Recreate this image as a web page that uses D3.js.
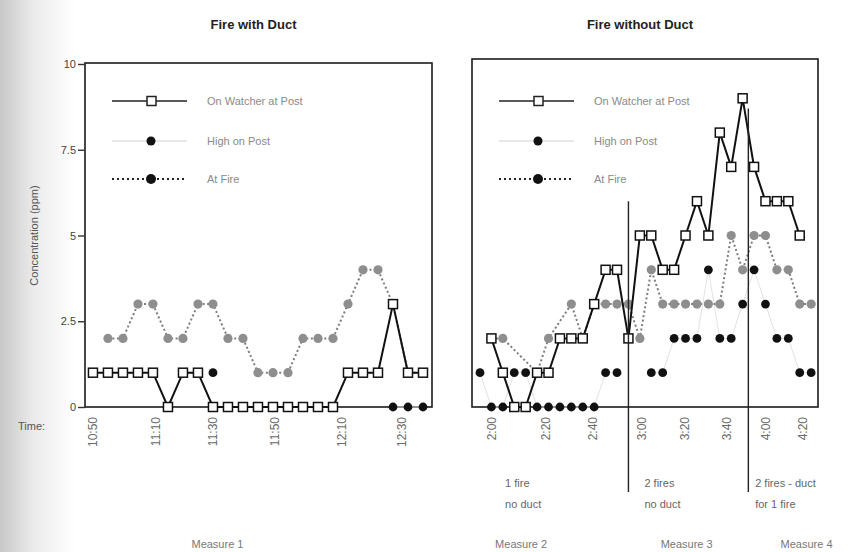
<!DOCTYPE html>
<html>
<head>
<meta charset="utf-8">
<script src="https://cdn.jsdelivr.net/npm/d3@7"></script>
<style>
  body { margin: 0; background: #fff; }
  text { font-family: "Liberation Sans", Arial, sans-serif; }
</style>
</head>
<body>
<div id="chart"></div>
<script>
// ---- data (ppm), one value per reading, null = no reading ----
const seriesNames = ["On Watcher at Post", "High on Post", "At Fire"];

// Fire with Duct, readings every 5 min from 10:50
const leftOnPost   = [1,1,1,1,1,0,1,1,0,0,0,0,0,0,0,0,0,1,1,1,3,1,1];
const leftHighPost = [null,null,null,null,null,null,null,null,1,null,null,null,null,null,null,null,null,null,null,null,0,0,0];
const leftAtFire   = [null,2,2,3,3,2,2,3,3,2,2,1,1,1,2,2,2,3,4,4,3,1,1];
const leftTickPos    = [0, 4.2, 8, 12.1, 16.6, 20.6];
const leftTickLabels = ["10:50", "11:10", "11:30", "11:50", "12:10", "12:30"];

// Fire without Duct
const rightOnPost   = [null,2,1,0,0,1,1,2,2,2,3,4,4,2,5,5,4,4,5,6,5,8,7,9,7,6,6,6,5,null];
const rightHighPost = [1,0,0,1,1,0,0,0,0,0,0,1,1,null,null,1,1,2,2,2,4,2,2,3,4,3,2,2,1,1];
const rightAtFire   = [null,2,2,null,null,1,2,null,3,2,3,3,3,3,2,4,3,3,3,3,3,3,5,4,5,5,4,4,3,3];
const rightTickPos    = [1, 5.8, 9.9, 14.2, 17.9, 21.6, 25, 28.3];
const rightTickLabels = ["2:00", "2:20", "2:40", "3:00", "3:20", "3:40", "4:00", "4:20"];

const yTicks = [0, 2.5, 5, 7.5, 10];
const yTickLabels = ["0", "2.5", "5", "7.5", "10"];

const measureBreaks = [13, 23.5];       // reading index where a new measure starts
const breakTops = [6, 8.7];             // ppm level where the divider line begins
const conditionNotes = [["1 fire", "no duct"], ["2 fires", "no duct"], ["2 fires - duct", "for 1 fire"]];
const measureNames = ["Measure 1", "Measure 2", "Measure 3", "Measure 4"];

// ---- layout ----
const width = 865, height = 552;
const svg = d3.select("#chart").append("svg")
    .attr("width", width)
    .attr("height", height);

// scanned-page shading on the left edge
const grad = svg.append("defs").append("linearGradient").attr("id", "edge");
grad.append("stop").attr("offset", "0%").attr("stop-color", "#c8c8c8");
grad.append("stop").attr("offset", "45%").attr("stop-color", "#ebebeb");
grad.append("stop").attr("offset", "100%").attr("stop-color", "#fff");
svg.append("rect").attr("width", 75).attr("height", height).attr("fill", "url(#edge)");

const y = d3.scaleLinear().domain([0, 10]).range([407, 64]);

const xLeft = d3.scaleLinear().domain([-0.53, 22.6]).range([85, 432]);
const xRight = d3.scaleLinear().domain([-0.7, 29.6]).range([472, 818]);

function toPoints(values) {
    return values.map((v, i) => ({i: i, v: v})).filter(d => d.v !== null);
}

function drawPanel(x, top, onPost, highPost, atFire, tickPos, tickLabels, title) {
    const g = svg.append("g");
    const [x0, x1] = x.range();

    // title
    svg.append("text")
        .attr("x", (x0 + x1) / 2 - 5)
        .attr("y", 29)
        .attr("text-anchor", "middle")
        .style("font-size", "13px")
        .style("font-weight", "bold")
        .attr("fill", "#222")
        .text(title);

    // frame
    g.append("rect")
        .attr("x", x0).attr("y", top)
        .attr("width", x1 - x0).attr("height", y(0) - top)
        .attr("fill", "none")
        .attr("stroke", "#1b1b1b")
        .attr("stroke-width", 1.6);

    const line = d3.line().x(d => x(d.i)).y(d => y(d.v));

    // High on Post: faint line (broken at gaps) + black dots
    const hp = toPoints(highPost);
    const gapLine = d3.line().defined(v => v !== null).x((v, i) => x(i)).y(v => y(v));
    g.append("path").attr("d", gapLine(highPost))
        .attr("fill", "none").attr("stroke", "#e2e2e2").attr("stroke-width", 1);

    // At Fire: dotted line + grey dots
    const af = toPoints(atFire);
    g.append("path").attr("d", line(af))
        .attr("fill", "none").attr("stroke", "#7d7d7d")
        .attr("stroke-width", 2).attr("stroke-dasharray", "2,2.5");
    g.selectAll(".fire").data(af).join("circle")
        .attr("cx", d => x(d.i)).attr("cy", d => y(d.v))
        .attr("r", 4.6).attr("fill", "#8e8e8e");

    g.selectAll(".high").data(hp).join("circle")
        .attr("cx", d => x(d.i)).attr("cy", d => y(d.v))
        .attr("r", 4.4).attr("fill", "#111");

    // On Watcher at Post: solid line + open squares
    const op = toPoints(onPost);
    g.append("path").attr("d", line(op))
        .attr("fill", "none").attr("stroke", "#111").attr("stroke-width", 2);
    g.selectAll(".post").data(op).join("rect")
        .attr("x", d => x(d.i) - 4.5).attr("y", d => y(d.v) - 4.5)
        .attr("width", 9).attr("height", 9)
        .attr("fill", "#fff").attr("stroke", "#111").attr("stroke-width", 1.5);

    // time labels, rotated
    g.selectAll(".tl").data(tickPos).join("text")
        .attr("transform", d => `translate(${x(d)},${y(0) + 10}) rotate(-90)`)
        .attr("dy", "0.35em")
        .attr("text-anchor", "end")
        .style("font-size", "12px")
        .attr("fill", "#6a6a6a")
        .text((d, k) => tickLabels[k]);

    // legend
    const legend = g.append("g").attr("transform", `translate(${x0},0)`);
    const rows = [101, 141, 179];
    rows.forEach((ry, k) => {
        const row = legend.append("g").attr("transform", `translate(0,${ry})`);
        if (k === 0) {
            row.append("line").attr("x1", 27).attr("x2", 102)
                .attr("stroke", "#222").attr("stroke-width", 1.4);
            row.append("rect").attr("x", 62).attr("y", -4.5).attr("width", 9).attr("height", 9)
                .attr("fill", "#fff").attr("stroke", "#222").attr("stroke-width", 1.5);
        } else if (k === 1) {
            row.append("line").attr("x1", 27).attr("x2", 102)
                .attr("stroke", "#e0e0e0").attr("stroke-width", 1.4);
            row.append("circle").attr("cx", 66).attr("r", 4.5).attr("fill", "#111");
        } else {
            row.append("line").attr("x1", 27).attr("x2", 102)
                .attr("stroke", "#222").attr("stroke-width", 2).attr("stroke-dasharray", "2,3");
            row.append("circle").attr("cx", 66).attr("r", 5).attr("fill", "#111");
        }
        row.append("text").attr("x", 122).attr("dy", "0.35em")
            .style("font-size", "11px").attr("fill", "#8a8a8a")
            .text(seriesNames[k]);
    });
    return g;
}

drawPanel(xLeft, 63, leftOnPost, leftHighPost, leftAtFire, leftTickPos, leftTickLabels, "Fire with Duct");
const right = drawPanel(xRight, 59, rightOnPost, rightHighPost, rightAtFire, rightTickPos, rightTickLabels, "Fire without Duct");

// y axis on the left panel only
const yAxis = svg.append("g")
    .attr("transform", `translate(${xLeft.range()[0]},0)`)
    .call(d3.axisLeft(y).tickValues(yTicks).tickSize(7).tickPadding(2)
        .tickFormat((d, k) => yTickLabels[k]));
yAxis.select(".domain").remove();
yAxis.selectAll("line").attr("stroke", "#333").attr("stroke-width", 1.4);
yAxis.selectAll("text").style("font-size", "11px").attr("fill", "#444")
    .style("font-family", "'Liberation Sans', Arial, sans-serif");

svg.append("text")
    .attr("transform", `translate(38,${y(5)}) rotate(-90)`)
    .attr("text-anchor", "middle")
    .style("font-size", "11px")
    .attr("fill", "#555")
    .text("Concentration (ppm)");

svg.append("text")
    .attr("x", 18).attr("y", 430)
    .style("font-size", "11px")
    .attr("fill", "#555")
    .text("Time:");

// measure dividers under the right panel
right.selectAll(".divider").data(measureBreaks).join("line")
    .attr("x1", d => xRight(d)).attr("x2", d => xRight(d))
    .attr("y1", (d, k) => y(breakTops[k]))
    .attr("y2", y(0) + 85)
    .attr("stroke", "#222").attr("stroke-width", 1.4);

// condition notes
const noteX = [2.2, 14.4, 24.1];
conditionNotes.forEach((lines, k) => {
    lines.forEach((t, j) => {
        svg.append("text")
            .attr("x", xRight(noteX[k]))
            .attr("y", 487 + j * 21)
            .style("font-size", "11px")
            .attr("fill", "#666")
            .text(t);
    });
});

// measure labels
const measureX = [xLeft(8.3), xRight(3.6), xRight(18.1), xRight(28.6)];
measureNames.forEach((t, k) => {
    svg.append("text")
        .attr("x", measureX[k])
        .attr("y", 548)
        .attr("text-anchor", "middle")
        .style("font-size", "11px")
        .attr("fill", "#777")
        .text(t);
});
</script>
</body>
</html>
